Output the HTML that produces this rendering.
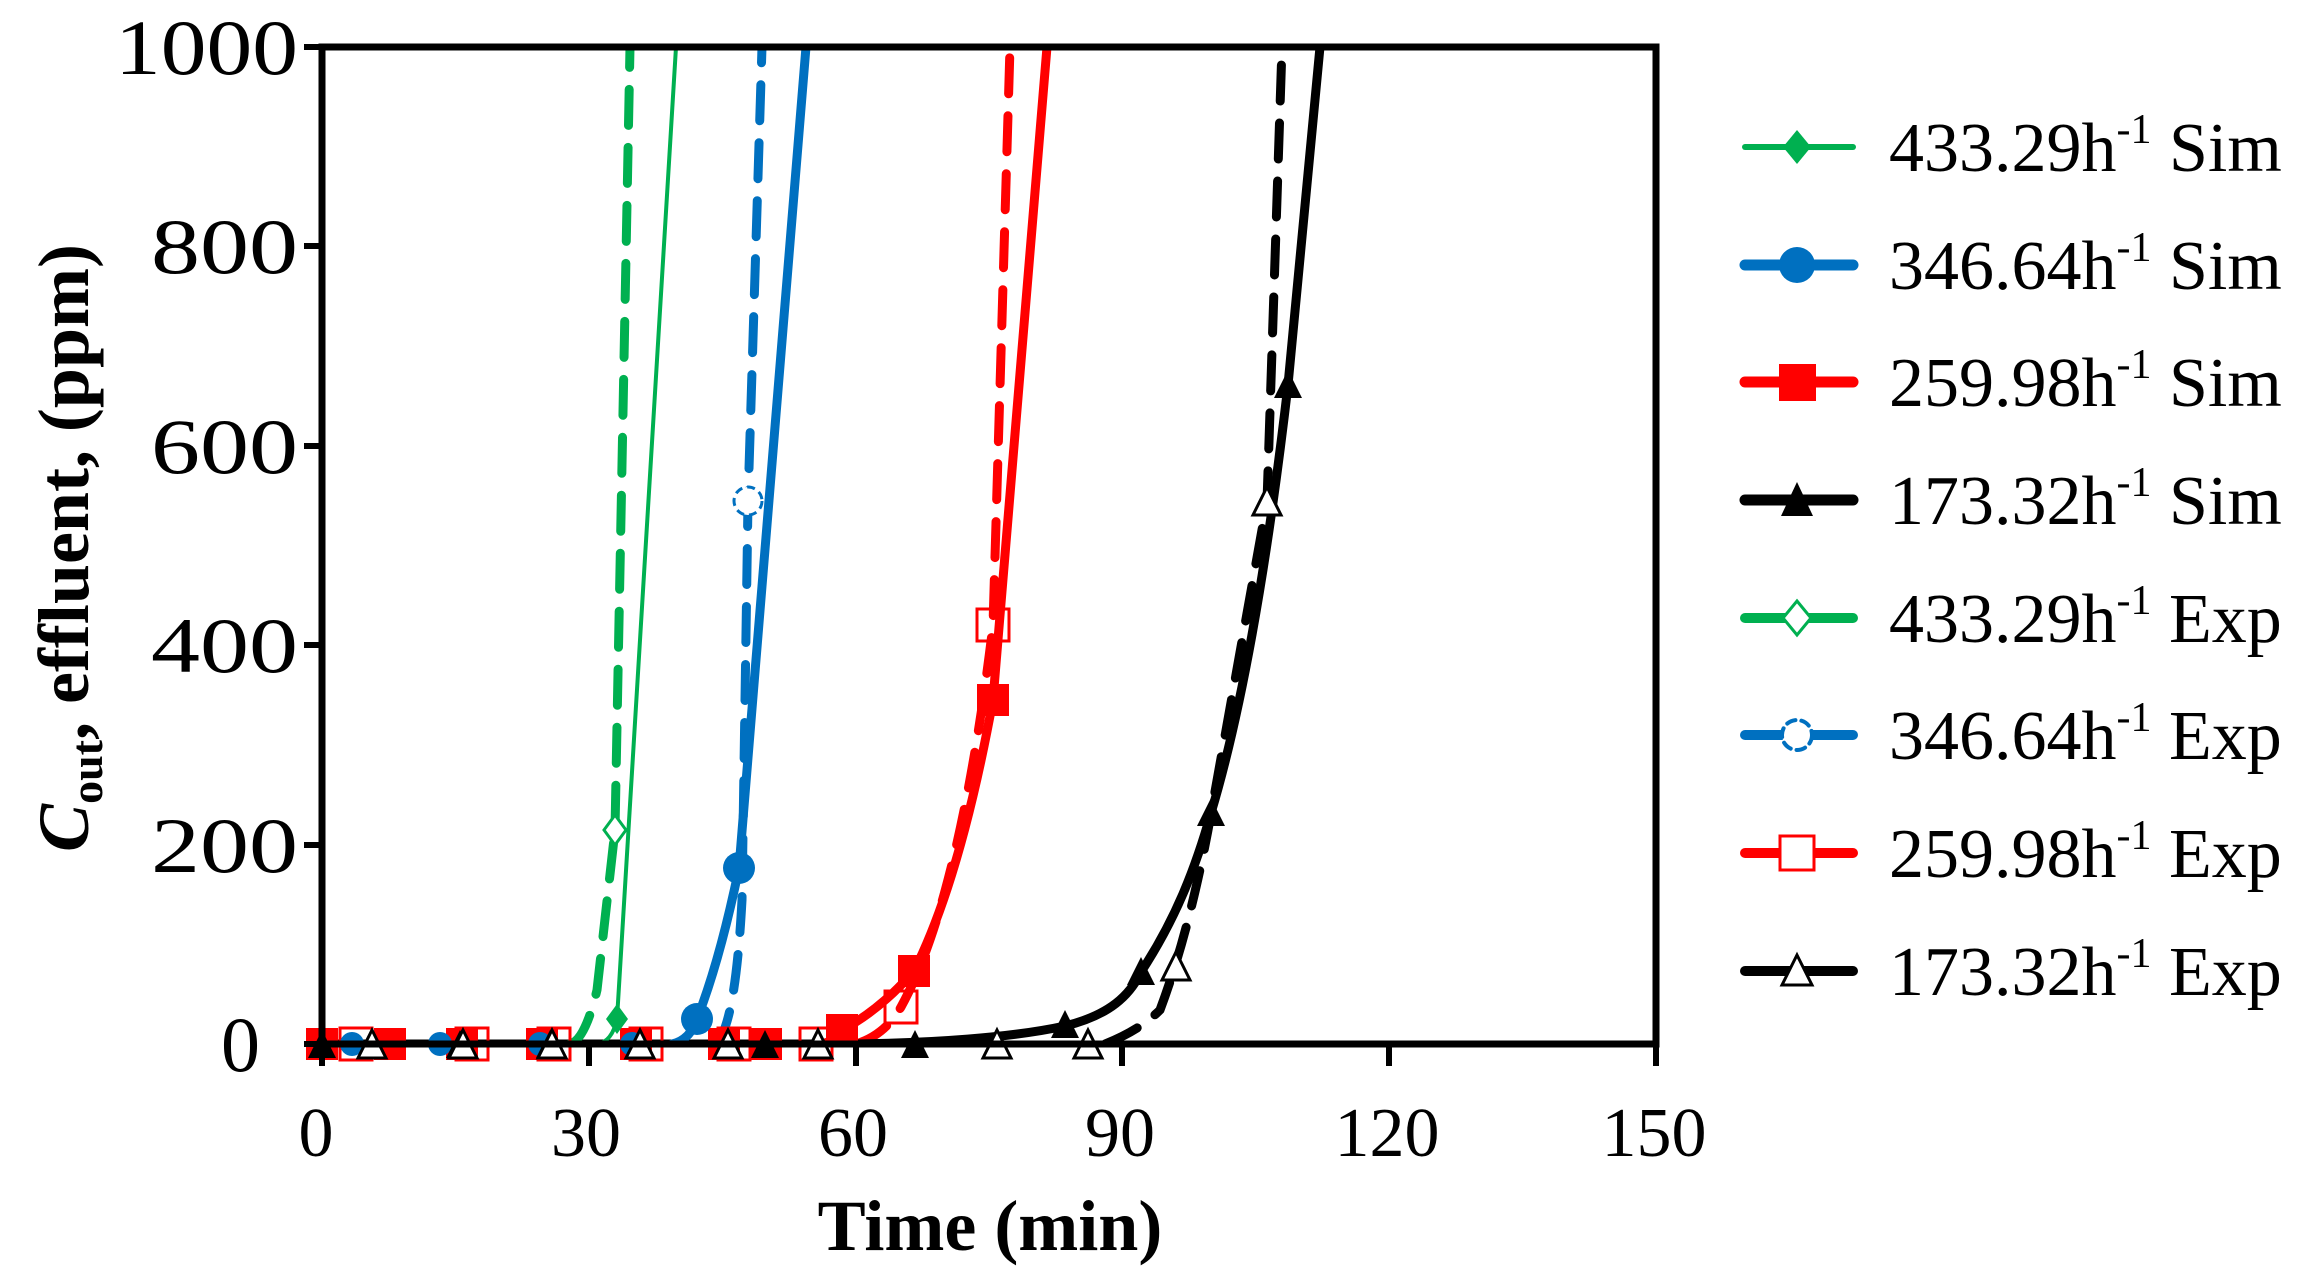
<!DOCTYPE html>
<html><head><meta charset="utf-8"><style>html,body{margin:0;padding:0;background:#fff}svg{display:block}</style></head>
<body>
<svg width="2306" height="1288" viewBox="0 0 2306 1288" xmlns="http://www.w3.org/2000/svg" font-family="'Liberation Serif', serif">
<defs>
<clipPath id="pc"><rect x="322" y="47" width="1334" height="1000"/></clipPath>
</defs>
<g clip-path="url(#pc)" fill="none" stroke-linecap="round" stroke-linejoin="round">
<path d="M322,1044 L600,1044" stroke="#00b050" stroke-width="4"/>
<path d="M322,1044 L570,1044" stroke="#00b050" stroke-width="9" stroke-dasharray="36,22"/>
<path d="M322,1044 L680,1044" stroke="#0070c0" stroke-width="9"/>
<path d="M322,1044 L720,1044" stroke="#0070c0" stroke-width="8" stroke-dasharray="36,22"/>
<path d="M322,1044 L825,1044" stroke="#ff0000" stroke-width="9"/>
<path d="M322,1044 L860,1044" stroke="#ff0000" stroke-width="8" stroke-dasharray="36,22"/>
<path d="M322,1044 L1000,1044" stroke="#000" stroke-width="9"/>
<path d="M597,1044 Q612,1042 617,1019 L676,47" stroke="#00b050" stroke-width="4"/>
<path d="M570,1044 Q585,1040 597,990 L615,830 L630,47" stroke="#00b050" stroke-width="9" stroke-dasharray="36,22"/>
<path d="M672,1044 Q690,1040 697,1019 Q720,960 739,868 L806,47" stroke="#0070c0" stroke-width="9"/>
<path d="M715,1044 Q735,1030 742,900 L748,501 L762,47" stroke="#0070c0" stroke-width="9" stroke-dasharray="36,22"/>
<path d="M820,1044 Q835,1042 842,1030 Q880,1010 914,971 Q960,880 993,700 L1047,47" stroke="#ff0000" stroke-width="9"/>
<path d="M856,1044 Q885,1035 901,1007 Q960,900 993,625 L1010,47" stroke="#ff0000" stroke-width="9" stroke-dasharray="36,22"/>
<path d="M856,1044 C930,1043 1010,1038 1065,1026 C1110,1015 1130,995 1141,972 C1175,920 1195,870 1211,813 C1245,700 1270,540 1288,385 L1320,47" stroke="#000" stroke-width="9"/>
<path d="M1105,1044 Q1140,1030 1160,1010 Q1190,930 1211,814 L1267,502 L1282,47" stroke="#000" stroke-width="9" stroke-dasharray="36,22"/>
</g>
<g>
<g fill="#ff0000"><rect x="306" y="1028" width="32" height="32"/><rect x="374" y="1028" width="32" height="32"/><rect x="446" y="1028" width="32" height="32"/><rect x="526" y="1028" width="32" height="32"/><rect x="620" y="1028" width="32" height="32"/><rect x="708" y="1028" width="32" height="32"/><rect x="750" y="1028" width="32" height="32"/></g>
<g fill="none" stroke="#ff0000" stroke-width="3"><rect x="340" y="1028" width="32" height="32"/><rect x="456" y="1028" width="32" height="32"/><rect x="538" y="1028" width="32" height="32"/><rect x="630" y="1028" width="32" height="32"/><rect x="718" y="1028" width="32" height="32"/><rect x="800" y="1028" width="32" height="32"/></g>
<g fill="#0070c0"><circle cx="352" cy="1044" r="12"/><circle cx="440" cy="1044" r="12"/><circle cx="540" cy="1044" r="12"/><circle cx="632" cy="1044" r="12"/></g>
<g fill="#000"><path d="M322,1030 L336,1058 L308,1058Z"/><path d="M460,1030 L474,1058 L446,1058Z"/><path d="M550,1030 L564,1058 L536,1058Z"/><path d="M765,1030 L779,1058 L751,1058Z"/><path d="M915,1030 L929,1058 L901,1058Z"/></g>
<g fill="#fff" stroke="#000" stroke-width="3"><path d="M372,1030 L386,1058 L358,1058Z"/><path d="M463,1030 L477,1058 L449,1058Z"/><path d="M552,1030 L566,1058 L538,1058Z"/><path d="M640,1030 L654,1058 L626,1058Z"/><path d="M728,1030 L742,1058 L714,1058Z"/><path d="M818,1030 L832,1058 L804,1058Z"/><path d="M997,1030 L1011,1058 L983,1058Z"/><path d="M1088,1030 L1102,1058 L1074,1058Z"/></g>
</g>
<path d="M617,1004 L628,1019 L617,1034 L606,1019Z" fill="#00b050"/>
<path d="M615,815 L626,830 L615,845 L604,830Z" fill="#fff" stroke="#00b050" stroke-width="3"/>
<circle cx="697" cy="1019" r="16" fill="#0070c0"/>
<circle cx="739" cy="868" r="16" fill="#0070c0"/>
<circle cx="748" cy="501" r="14" fill="#fff" stroke="#0070c0" stroke-width="3" stroke-dasharray="8,5"/>
<rect x="826" y="1014" width="32" height="32" fill="#ff0000"/>
<rect x="898" y="955" width="32" height="32" fill="#ff0000"/>
<rect x="977" y="684" width="32" height="32" fill="#ff0000"/>
<rect x="885" y="991" width="32" height="32" fill="none" stroke="#ff0000" stroke-width="3"/>
<rect x="977" y="609" width="32" height="32" fill="none" stroke="#ff0000" stroke-width="3"/>
<g fill="#000"><path d="M1065,1010 L1079,1038 L1051,1038Z"/><path d="M1141,957 L1155,985 L1127,985Z"/><path d="M1211,798 L1225,826 L1197,826Z"/><path d="M1288,370 L1302,398 L1274,398Z"/></g>
<g fill="#fff" stroke="#000" stroke-width="3"><path d="M1176,952 L1190,980 L1162,980Z"/><path d="M1267,487 L1281,515 L1253,515Z"/></g>
<g stroke="#000" stroke-width="7" fill="none">
<rect x="322" y="47" width="1334" height="997"/>
</g>
<g stroke="#000" stroke-width="6">
<line x1="304" y1="246" x2="322" y2="246"/><line x1="304" y1="446" x2="322" y2="446"/><line x1="304" y1="645" x2="322" y2="645"/><line x1="304" y1="845" x2="322" y2="845"/><line x1="304" y1="1044" x2="322" y2="1044"/><line x1="304" y1="47" x2="322" y2="47"/>
<line x1="322" y1="1044" x2="322" y2="1066"/><line x1="589" y1="1044" x2="589" y2="1066"/><line x1="856" y1="1044" x2="856" y2="1066"/><line x1="1122" y1="1044" x2="1122" y2="1066"/><line x1="1389" y1="1044" x2="1389" y2="1066"/><line x1="1656" y1="1044" x2="1656" y2="1066"/>
</g>
<g font-size="78">
<text x="115" y="74" textLength="183" lengthAdjust="spacingAndGlyphs">1000</text>
<text x="151" y="273" textLength="147" lengthAdjust="spacingAndGlyphs">800</text>
<text x="151" y="473" textLength="147" lengthAdjust="spacingAndGlyphs">600</text>
<text x="151" y="672" textLength="147" lengthAdjust="spacingAndGlyphs">400</text>
<text x="151" y="872" textLength="147" lengthAdjust="spacingAndGlyphs">200</text>
<text x="221" y="1071" textLength="39" lengthAdjust="spacingAndGlyphs">0</text>
</g>
<g font-size="70" text-anchor="middle">
<text x="316" y="1156">0</text><text x="586" y="1156">30</text><text x="853" y="1156">60</text><text x="1120" y="1156">90</text><text x="1387" y="1156">120</text><text x="1654" y="1156">150</text>
</g>
<text x="990" y="1250" font-size="72" font-weight="bold" text-anchor="middle">Time (min)</text>
<text transform="translate(88,548) rotate(-90)" font-size="72" font-weight="bold" text-anchor="middle"><tspan font-style="italic">C</tspan><tspan font-size="46" dy="14">out</tspan><tspan dy="-14">, effluent, (ppm)</tspan></text>
<g stroke-linecap="round">
<line x1="1745" y1="147" x2="1853" y2="147" stroke="#00b050" stroke-width="6"/>
<path d="M1797,130 L1811,147 L1797,164 L1783,147Z" fill="#00b050"/>
<line x1="1745" y1="265" x2="1853" y2="265" stroke="#0070c0" stroke-width="11"/>
<circle cx="1797" cy="265" r="18" fill="#0070c0"/>
<line x1="1745" y1="382" x2="1853" y2="382" stroke="#ff0000" stroke-width="11"/>
<rect x="1779" y="364" width="37" height="37" fill="#ff0000"/>
<line x1="1745" y1="500" x2="1853" y2="500" stroke="#000" stroke-width="11"/>
<path d="M1797,482 L1813,516 L1781,516Z" fill="#000"/>
<line x1="1745" y1="618" x2="1853" y2="618" stroke="#00b050" stroke-width="10"/>
<path d="M1797,601 L1811,618 L1797,635 L1783,618Z" fill="#fff" stroke="#00b050" stroke-width="3"/>
<line x1="1745" y1="735" x2="1853" y2="735" stroke="#0070c0" stroke-width="10"/>
<circle cx="1797" cy="735" r="15" fill="#fff" stroke="#0070c0" stroke-width="4" stroke-dasharray="9,6"/>
<line x1="1745" y1="853" x2="1853" y2="853" stroke="#ff0000" stroke-width="10"/>
<rect x="1780" y="836" width="34" height="34" fill="#fff" stroke="#ff0000" stroke-width="3"/>
<line x1="1745" y1="971" x2="1853" y2="971" stroke="#000" stroke-width="10"/>
<path d="M1797,955 L1812,985 L1782,985Z" fill="#fff" stroke="#000" stroke-width="3"/>
</g>
<g font-size="70">
<text x="1889" y="171">433.29h<tspan font-size="42" dy="-28">-1</tspan><tspan dy="28"> Sim</tspan></text>
<text x="1889" y="289">346.64h<tspan font-size="42" dy="-28">-1</tspan><tspan dy="28"> Sim</tspan></text>
<text x="1889" y="406">259.98h<tspan font-size="42" dy="-28">-1</tspan><tspan dy="28"> Sim</tspan></text>
<text x="1889" y="524">173.32h<tspan font-size="42" dy="-28">-1</tspan><tspan dy="28"> Sim</tspan></text>
<text x="1889" y="642">433.29h<tspan font-size="42" dy="-28">-1</tspan><tspan dy="28"> Exp</tspan></text>
<text x="1889" y="759">346.64h<tspan font-size="42" dy="-28">-1</tspan><tspan dy="28"> Exp</tspan></text>
<text x="1889" y="877">259.98h<tspan font-size="42" dy="-28">-1</tspan><tspan dy="28"> Exp</tspan></text>
<text x="1889" y="995">173.32h<tspan font-size="42" dy="-28">-1</tspan><tspan dy="28"> Exp</tspan></text>
</g>
</svg>
</body></html>
